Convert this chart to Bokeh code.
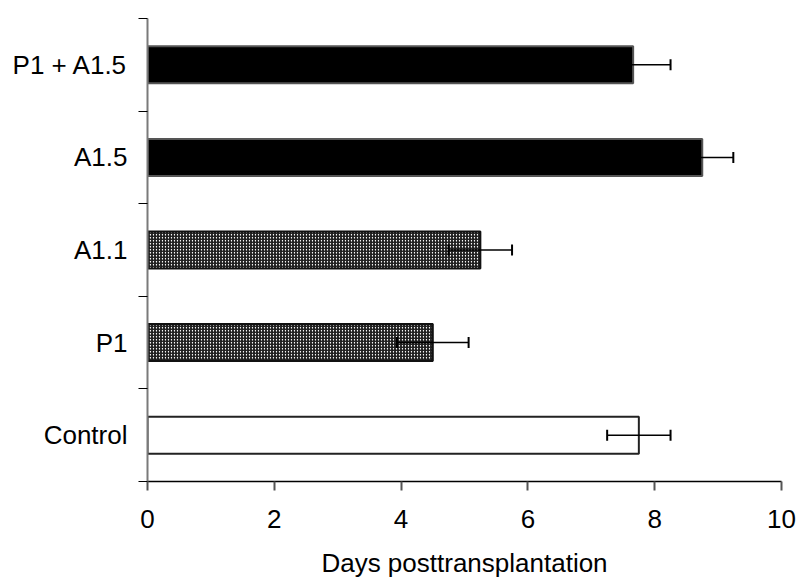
from bokeh.plotting import figure
from bokeh.models import (ColumnDataSource, Range1d, FixedTicker, Whisker, TeeHead)
from bokeh.embed import file_html
from bokeh.resources import INLINE

# Treatment groups, bottom to top
groups = ["Control", "P1", "A1.1", "A1.5", "P1 + A1.5"]
# Mean graft survival (days) and standard error
survival = [7.75, 4.50, 5.25, 8.75, 7.66]
sem = [0.50, 0.565, 0.50, 0.49, 0.59]
x_ticks = [0, 2, 4, 6, 8, 10]

# Bar styling by group kind
kind = ["open", "hatched", "hatched", "solid", "solid"]
style = {
    "open": dict(fill="white", hatch=" ", line="#222222"),
    "hatched": dict(fill="white", hatch="/", line="#111111"),
    "solid": dict(fill="black", hatch=" ", line="#555555"),
}

ypos = [i + 0.5 for i in range(len(groups))]
src = ColumnDataSource(dict(
    y=ypos,
    right=survival,
    lower=[m - s for m, s in zip(survival, sem)],
    upper=[m + s for m, s in zip(survival, sem)],
    fill=[style[k]["fill"] for k in kind],
    hatch=[style[k]["hatch"] for k in kind],
    line=[style[k]["line"] for k in kind],
))

FONT = "Liberation Sans"

p = figure(width=797, height=580, output_backend="svg", toolbar_location=None,
           x_range=Range1d(0, 10), y_range=Range1d(0, len(groups)),
           min_border_left=147, min_border_right=16, min_border_top=18,
           min_border_bottom=97)
p.outline_line_color = None
p.grid.grid_line_color = None

p.hbar(y="y", left=0, right="right", height=0.4, source=src,
       fill_color="fill", line_color="line", line_width=2,
       hatch_pattern="hatch", hatch_color="black", hatch_scale=3,
       hatch_weight=1.3, hatch_alpha=0.9)

w = Whisker(source=src, base="y", lower="lower", upper="upper",
            dimension="width", line_color="black", line_width=1.5,
            level="overlay",
            upper_head=TeeHead(size=11, line_width=2, line_color="black"),
            lower_head=TeeHead(size=11, line_width=2, line_color="black"))
p.add_layout(w)

# x axis
xa = p.xaxis[0]
xa.ticker = FixedTicker(ticks=x_ticks, minor_ticks=[])
xa.axis_label = "Days posttransplantation"
xa.axis_line_color = "black"
xa.axis_line_width = 1.5
xa.major_tick_line_color = "#555555"
xa.major_tick_line_width = 2
xa.major_tick_in = 0
xa.major_tick_out = 9
xa.major_label_standoff = 19
xa.major_label_text_font = FONT
xa.major_label_text_font_size = "26px"
xa.major_label_text_color = "black"
xa.axis_label_text_font = FONT
xa.axis_label_text_font_size = "26px"
xa.axis_label_text_font_style = "normal"
xa.axis_label_text_color = "black"
xa.axis_label_standoff = 17

# y axis: labels at bar centres, ticks at category boundaries
ya = p.yaxis[0]
ya.ticker = FixedTicker(ticks=ypos, minor_ticks=list(range(len(groups) + 1)))
ya.major_label_overrides = {y: g for y, g in zip(ypos, groups)}
ya.axis_line_color = "#7a7a7a"
ya.axis_line_width = 2
ya.major_tick_in = 0
ya.major_tick_out = 0
ya.minor_tick_in = 0
ya.minor_tick_out = 9
ya.minor_tick_line_color = "black"
ya.minor_tick_line_width = 1.2
ya.major_label_standoff = 11
ya.major_label_text_font = FONT
ya.major_label_text_font_size = "26px"
ya.major_label_text_color = "black"

open("out.html", "w").write(file_html(p, INLINE))
